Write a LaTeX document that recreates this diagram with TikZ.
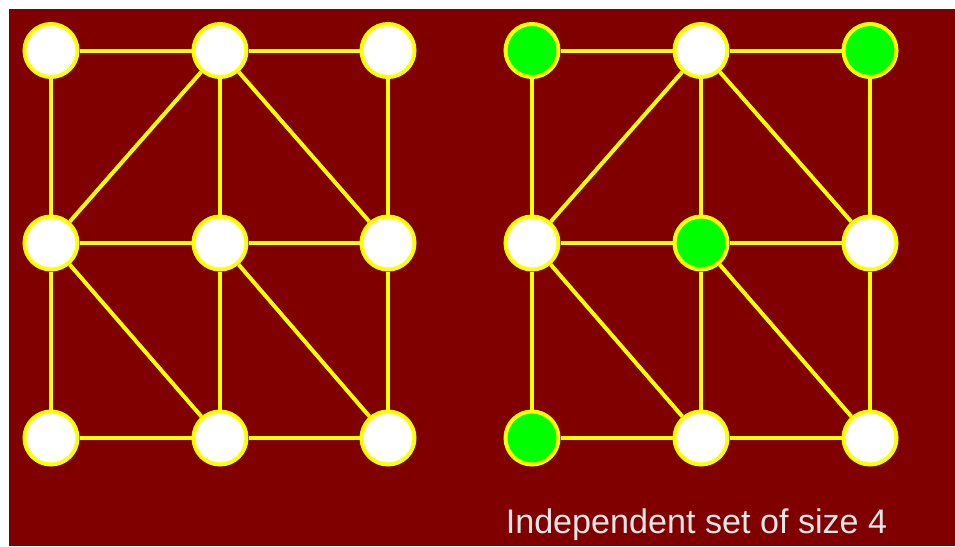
\documentclass[tikz,border=0pt]{standalone}
\usepackage{fontspec}
\setmainfont{Liberation Sans}
\definecolor{bg}{HTML}{800000}
\definecolor{ylw}{HTML}{FFFF00}
\definecolor{grn}{HTML}{00FF00}
\definecolor{txt}{HTML}{E6E6E6}
\begin{document}
\begin{tikzpicture}[x=0.75pt,y=-0.75pt,
  vtx/.style={circle,draw=ylw,line width=3pt,fill=white,minimum size=39.75pt,inner sep=0pt},
  sel/.style={vtx,fill=grn},
  edge/.style={draw=ylw,line width=3pt}]
\useasboundingbox (0,0) rectangle (955,546);
\fill[bg] (9,9) rectangle (955,546);
% left graph
\node[vtx] (a) at (51,50.5) {};
\node[vtx] (b) at (220,50.5) {};
\node[vtx] (c) at (388,50.5) {};
\node[vtx] (d) at (51,243) {};
\node[vtx] (e) at (220,243) {};
\node[vtx] (f) at (388,243) {};
\node[vtx] (g) at (51,438) {};
\node[vtx] (h) at (220,438) {};
\node[vtx] (i) at (388,438) {};
% right graph
\node[sel] (A) at (532,50.5) {};
\node[vtx] (B) at (701,50.5) {};
\node[sel] (C) at (870,50.5) {};
\node[vtx] (D) at (532,243) {};
\node[sel] (E) at (701,243) {};
\node[vtx] (F) at (870,243) {};
\node[sel] (G) at (532,438) {};
\node[vtx] (H) at (701,438) {};
\node[vtx] (I) at (870,438) {};
\foreach \p/\q in {a/b,b/c,a/d,b/e,c/f,d/e,e/f,d/g,e/h,f/i,g/h,h/i,b/d,b/f,d/h,e/i,
                   A/B,B/C,A/D,B/E,C/F,D/E,E/F,D/G,E/H,F/I,G/H,H/I,B/D,B/F,D/H,E/I}
  \draw[edge] (\p) -- (\q);
\node[text=txt,font=\fontsize{25.6}{30}\selectfont,anchor=base] (lbl) at (696.5,533) {Independent set of size 4};
\end{tikzpicture}
\end{document}
